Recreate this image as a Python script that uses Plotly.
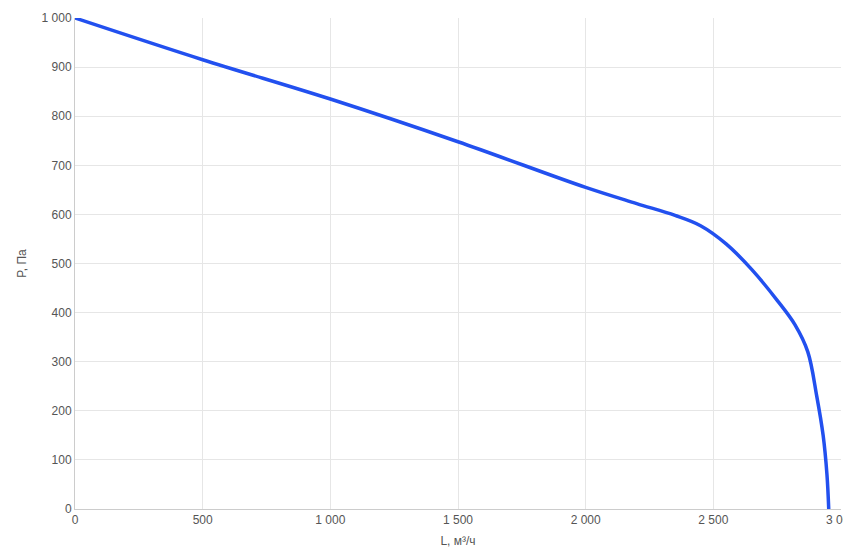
import plotly.graph_objects as go

L = [0, 500, 1000, 1500, 2000, 2200, 2350, 2450, 2550, 2650, 2750, 2820, 2870, 2905, 2930, 2945, 2952]
P = [1000, 915, 835, 748, 655, 622, 598, 577, 540, 488, 425, 375, 320, 230, 150, 70, 0]

fig = go.Figure(go.Scatter(x=L, y=P, mode="lines", line=dict(color="#2250ef", width=3.5, shape="spline", smoothing=1)))
ax = dict(showgrid=True, gridcolor="#e6e6e6", zeroline=False, showline=True, linecolor="#cccccc",
          tickfont=dict(size=12, color="#555"), ticks="", title_font=dict(size=12, color="#555"), automargin=False)
fig.update_layout(
    width=851, height=553, margin=dict(l=67, r=18, t=10, b=52),
    plot_bgcolor="white", paper_bgcolor="white", separators=", ",
    font=dict(family="Arial, Liberation Sans, sans-serif"), showlegend=False,
    xaxis=dict(ax, range=[0, 3000], dtick=500, tickformat=",d", title=dict(text="L, м³/ч", standoff=10)),
    yaxis=dict(ax, range=[0, 1000], dtick=100, tickformat=",d", title=dict(text="P, Па", standoff=12)),
)
fig.write_html("out.html")
